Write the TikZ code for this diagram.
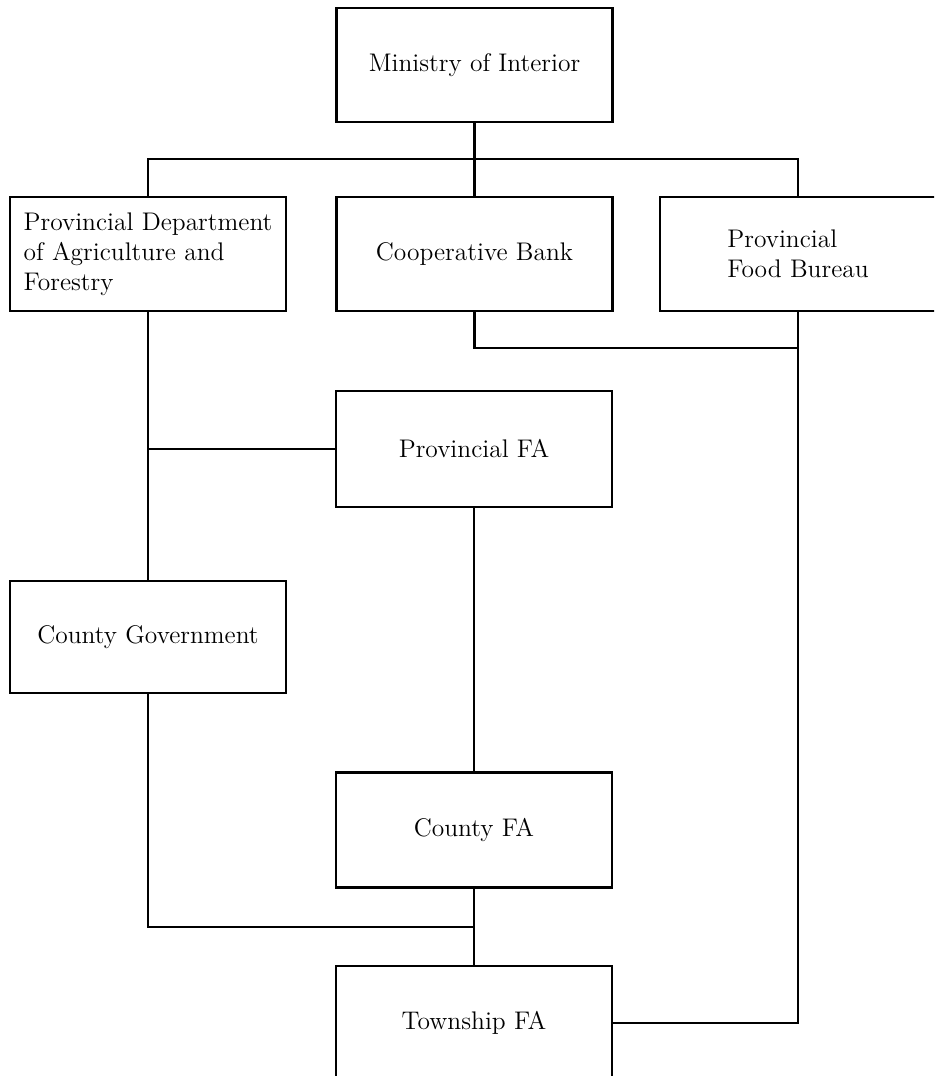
\documentclass[tikz,border=0pt]{standalone}
\usepackage{tikz}
\usetikzlibrary{calc}
\usetikzlibrary{positioning}

\begin{document}
\begin{tikzpicture}[x=0.02cm,y=-0.02cm,
    orgbox/.style={draw,line width=1.2pt,minimum width=5.52cm,minimum height=2.28cm,inner sep=0pt,
      font=\fontsize{14.5}{17.2}\selectfont},
    link/.style={line width=1.2pt}]
    \useasboundingbox (0,0) rectangle (934,1076);
    \clip (0,0) rectangle (934,1076);
    % boxes
    \node[orgbox] (min) at (474.5,65) {Ministry of Interior};
    \node[orgbox,align=left] (dept) at (148,254) {Provincial Department\\of Agriculture and\\Forestry};
    \node[orgbox] (bank) at (474.5,254) {Cooperative Bank};
    \node[orgbox,align=left] (food) at (798,254) {Provincial\\Food Bureau};
    \node[orgbox,minimum height=2.32cm] (pfa) at (474,449) {Provincial FA};
    \node[orgbox,minimum height=2.24cm] (cgov) at (148,637) {County Government};
    \node[orgbox,minimum height=2.3cm] (cfa) at (474,830) {County FA};
    \node[orgbox] (town) at (474,1023) {Township FA};
    % junctions
    \coordinate (bus) at (474,159);
    \coordinate (join) at (798,348);
    \coordinate (merge) at (474,927);
    % lines
    \draw[link] (min.south) -- (bank.north);
    \draw[link] (dept.north) |- (bus) -| (food.north);
    \draw[link] (bank.south) |- (join);
    \draw[link] (food.south) -- (join) |- (town.east);
    \draw[link] (dept.south) -- (cgov.north);
    \draw[link] (pfa.west) -- (pfa.west -| dept.south);
    \draw[link] (pfa.south) -- (cfa.north);
    \draw[link] (cfa.south) -- (town.north);
    \draw[link] (cgov.south) |- (merge);
  \end{tikzpicture}
\end{document}
